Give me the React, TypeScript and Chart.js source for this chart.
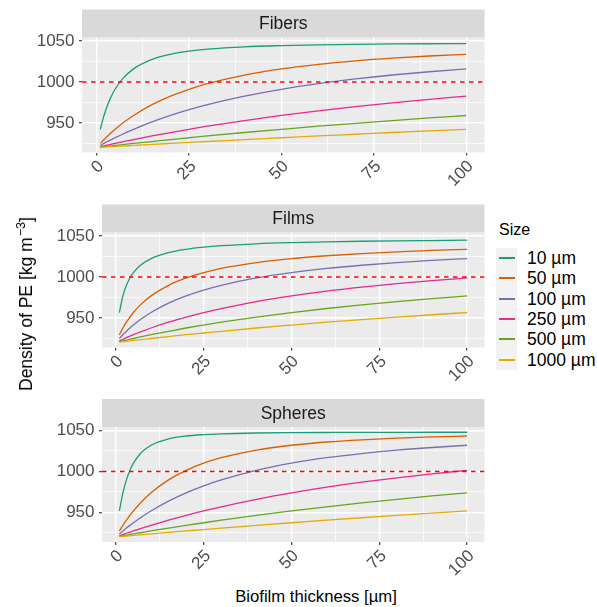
import React, { useEffect, useRef } from 'react';
import { Chart, registerables } from 'chart.js';

Chart.register(...registerables);

// ---------- data ----------
const thickness = [1, 2, 3, 4, 5, 7, 10, 15, 20, 25, 30, 40, 50, 60, 70, 80, 90, 100];
const sizeLabels = ['10 µm', '50 µm', '100 µm', '250 µm', '500 µm', '1000 µm'];
const sizeColors = ['#1B9E77', '#D95F02', '#7570B3', '#E7298A', '#66A61E', '#E6AB02'];
const xTickValues = [0, 12.5, 25, 37.5, 50, 62.5, 75, 87.5, 100];
const yTickValues = [925, 950, 975, 1000, 1025, 1050];
const referenceDensity = 1000;
const xRange = [-3.95, 104.95];
const yRange = [913.9, 1054.3];

const fibers10 = [942.2, 959.1, 972.3, 982.7, 991.1, 1003.7, 1016.0, 1027.5, 1033.8, 1037.6, 1040.0, 1042.9, 1044.4, 1045.4, 1046.0, 1046.4, 1046.7, 1046.9];
const fibers50 = [925.0, 929.7, 934.1, 938.3, 942.2, 949.5, 959.1, 972.3, 982.7, 991.1, 998.0, 1008.5, 1016.0, 1021.6, 1025.8, 1029.1, 1031.7, 1033.8];
const fibers100 = [922.5, 925.0, 927.3, 929.7, 931.9, 936.2, 942.2, 951.2, 959.1, 966.1, 972.3, 982.7, 991.1, 998.0, 1003.7, 1008.5, 1012.5, 1016.0];
const fibers250 = [921.0, 922.0, 923.0, 924.0, 925.0, 926.9, 929.7, 934.1, 938.3, 942.2, 946.0, 952.9, 959.1, 964.8, 969.9, 974.5, 978.8, 982.7];
const fibers500 = [920.5, 921.0, 921.5, 922.0, 922.5, 923.5, 925.0, 927.3, 929.7, 931.9, 934.1, 938.3, 942.2, 946.0, 949.5, 952.9, 956.1, 959.1];
const fibers1000 = [920.3, 920.5, 920.8, 921.0, 921.3, 921.8, 922.5, 923.8, 925.0, 926.2, 927.3, 929.7, 931.9, 934.1, 936.2, 938.3, 940.3, 942.2];

const films10 = [956.6, 976.9, 989.8, 998.8, 1005.3, 1014.3, 1022.4, 1029.7, 1033.8, 1036.4, 1038.2, 1040.5, 1041.9, 1042.9, 1043.6, 1044.1, 1044.5, 1044.9];
const films50 = [929.5, 937.7, 944.8, 951.0, 956.6, 965.9, 976.9, 989.8, 998.8, 1005.3, 1010.4, 1017.5, 1022.4, 1025.9, 1028.6, 1030.7, 1032.4, 1033.8];
const films100 = [924.9, 929.5, 933.7, 937.7, 941.3, 948.0, 956.6, 968.0, 976.9, 984.0, 989.8, 998.8, 1005.3, 1010.4, 1014.3, 1017.5, 1020.2, 1022.4];
const films250 = [922.0, 924.0, 925.9, 927.7, 929.5, 932.9, 937.7, 944.8, 951.0, 956.6, 961.5, 970.0, 976.9, 982.7, 987.6, 991.9, 995.5, 998.8];
const films500 = [921.0, 922.0, 923.0, 924.0, 924.9, 926.8, 929.5, 933.7, 937.7, 941.3, 944.8, 951.0, 956.6, 961.5, 965.9, 970.0, 973.6, 976.9];
const films1000 = [920.5, 921.0, 921.5, 922.0, 922.5, 923.5, 924.9, 927.2, 929.5, 931.6, 933.7, 937.7, 941.3, 944.8, 948.0, 951.0, 953.9, 956.6];

const spheres10 = [951.8, 973.9, 989.7, 1001.4, 1010.1, 1021.9, 1032.0, 1039.8, 1043.3, 1045.0, 1046.0, 1047.0, 1047.4, 1047.6, 1047.75, 1047.8, 1047.9, 1047.9];
const spheres50 = [927.4, 934.2, 940.5, 946.4, 951.8, 961.6, 973.9, 989.7, 1001.4, 1010.1, 1016.8, 1026.1, 1032.0, 1036.0, 1038.7, 1040.7, 1042.2, 1043.3];
const spheres100 = [923.8, 927.4, 930.9, 934.2, 937.4, 943.5, 951.8, 963.8, 973.9, 982.5, 989.7, 1001.4, 1010.1, 1016.8, 1021.9, 1026.1, 1029.3, 1032.0];
const spheres250 = [921.5, 923.0, 924.5, 925.9, 927.4, 930.2, 934.2, 940.5, 946.4, 951.8, 956.9, 966.0, 973.9, 980.9, 987.0, 992.3, 997.1, 1001.4];
const spheres500 = [920.8, 921.5, 922.3, 923.0, 923.8, 925.2, 927.4, 930.9, 934.2, 937.4, 940.5, 946.4, 951.8, 956.9, 961.6, 966.0, 970.1, 973.9];
const spheres1000 = [920.4, 920.8, 921.1, 921.5, 921.9, 922.6, 923.8, 925.6, 927.4, 929.1, 930.9, 934.2, 937.4, 940.5, 943.5, 946.4, 949.2, 951.8];

const FONT = '"Liberation Sans", Arial, Helvetica, sans-serif';
const CANVAS_W = 490;
const CANVAS_H = 190;
const STRIP_H = 28;

const panelPlugin = {
  id: 'panel',
  beforeDraw(chart: any, _args: any, opts: any) {
    const { ctx, chartArea: a } = chart;
    ctx.save();
    ctx.fillStyle = '#EBEBEB';
    ctx.fillRect(a.left, a.top, a.right - a.left, a.bottom - a.top);
    ctx.fillStyle = '#D9D9D9';
    ctx.fillRect(a.left, a.top - STRIP_H, a.right - a.left, STRIP_H);
    ctx.fillStyle = '#1A1A1A';
    ctx.font = `17.5px ${FONT}`;
    ctx.textAlign = 'center';
    ctx.textBaseline = 'middle';
    ctx.fillText(opts.title, (a.left + a.right) / 2, a.top - STRIP_H / 2 + 1);
    ctx.restore();
  },
  afterDatasetsDraw(chart: any) {
    const { ctx, chartArea: a } = chart;
    const y = chart.scales.y.getPixelForValue(referenceDensity);
    ctx.save();
    ctx.beginPath();
    ctx.rect(a.left, a.top, a.right - a.left, a.bottom - a.top);
    ctx.clip();
    ctx.strokeStyle = '#FF0000';
    ctx.lineWidth = 1.3;
    ctx.setLineDash([4.5, 4.5]);
    ctx.beginPath();
    ctx.moveTo(a.left, y);
    ctx.lineTo(a.right, y);
    ctx.stroke();
    ctx.restore();
  },
};

const isMajorX = (v: number) => v % 25 === 0;
const isMajorY = (v: number) => v % 50 === 0;

type PanelProps = {
  title: string;
  series: number[][];
  top: number;
  padTop: number;
  axisW: number;
};

function Panel({ title, series, top, padTop, axisW }: PanelProps) {
  const ref = useRef<HTMLCanvasElement>(null);
  useEffect(() => {
    if (!ref.current) return;
    const xAxisH = CANVAS_H - padTop - 115;
    const chart = new Chart(ref.current, {
      type: 'line',
      data: {
        datasets: series.map((vals, i) => ({
          label: sizeLabels[i],
          data: thickness.map((t, j) => ({ x: t, y: vals[j] })),
          borderColor: sizeColors[i],
          backgroundColor: sizeColors[i],
          borderWidth: 1.3,
          pointRadius: 0,
          fill: false,
          cubicInterpolationMode: 'monotone',
          order: series.length - 1 - i,
        })),
      },
      options: {
        animation: false,
        responsive: false,
        events: [],
        layout: { padding: { top: padTop, right: CANVAS_W - 484.5, left: 0, bottom: 0 } },
        plugins: {
          legend: { display: false },
          tooltip: { enabled: false },
          panel: { title },
        } as any,
        scales: {
          x: {
            type: 'linear',
            min: xRange[0],
            max: xRange[1],
            bounds: 'data',
            afterBuildTicks: (s: any) => {
              s.ticks = xTickValues.map((v) => ({ value: v }));
            },
            afterFit: (s: any) => {
              s.height = xAxisH;
              s.paddingLeft = 0;
              s.paddingRight = 0;
            },
            ticks: {
              autoSkip: false,
              minRotation: 45,
              maxRotation: 45,
              padding: 1,
              labelOffset: 4.5,
              color: '#4D4D4D',
              font: { family: FONT, size: 17 },
              callback: (v: any) => (isMajorX(Number(v)) ? String(v) : ''),
            },
            grid: {
              color: '#FFFFFF',
              lineWidth: (c: any) => (c.tick && isMajorX(c.tick.value) ? 1.4 : 0.7),
              tickLength: 3,
              tickWidth: 1.1,
              tickColor: (c: any) => (c.tick && isMajorX(c.tick.value) ? '#333333' : 'rgba(0,0,0,0)'),
            },
            border: { display: false },
          },
          y: {
            type: 'linear',
            min: yRange[0],
            max: yRange[1],
            bounds: 'data',
            afterBuildTicks: (s: any) => {
              s.ticks = yTickValues.map((v) => ({ value: v }));
            },
            afterFit: (s: any) => {
              s.width = axisW;
            },
            ticks: {
              autoSkip: false,
              padding: 4.5,
              color: '#4D4D4D',
              font: { family: FONT, size: 17 },
              callback: (v: any) => (isMajorY(Number(v)) ? String(v) : ''),
            },
            grid: {
              color: '#FFFFFF',
              lineWidth: (c: any) => (c.tick && isMajorY(c.tick.value) ? 1.4 : 0.7),
              tickLength: 3,
              tickWidth: 1.1,
              tickColor: (c: any) => (c.tick && isMajorY(c.tick.value) ? '#333333' : 'rgba(0,0,0,0)'),
            },
            border: { display: false },
          },
        },
      } as any,
      plugins: [panelPlugin as any],
    });
    return () => chart.destroy();
  }, []);
  return (
    <div style={{ position: 'absolute', left: 0, top, width: CANVAS_W, height: CANVAS_H }}>
      <canvas ref={ref} width={CANVAS_W} height={CANVAS_H} style={{ width: CANVAS_W, height: CANVAS_H, display: 'block' }} />
    </div>
  );
}

export default function App() {
  const fibers = [fibers10, fibers50, fibers100, fibers250, fibers500, fibers1000];
  const films = [films10, films50, films100, films250, films500, films1000];
  const spheres = [spheres10, spheres50, spheres100, spheres250, spheres500, spheres1000];
  return (
    <div
      style={{
        position: 'absolute',
        left: 0,
        top: 0,
        width: 597,
        height: 607,
        background: '#FFFFFF',
        fontFamily: FONT,
        overflow: 'hidden',
      }}
    >
      <Panel title="Fibers" series={fibers} top={0} padTop={37.5} axisW={82} />
      <Panel title="Films" series={films} top={195} padTop={37.5} axisW={102} />
      <Panel title="Spheres" series={spheres} top={390} padTop={37} axisW={102} />

      {/* y axis title */}
      <div
        style={{
          position: 'absolute',
          left: 27,
          top: 304,
          transform: 'translate(-50%, -50%) rotate(-90deg)',
          whiteSpace: 'nowrap',
          fontSize: 17.5,
          lineHeight: '20px',
          color: '#000',
        }}
      >
        Density of PE [kg m
        <span style={{ fontSize: 12.5, position: 'relative', top: -7, marginLeft: 1 }}>−3</span>]
      </div>

      {/* x axis title */}
      <div
        style={{
          position: 'absolute',
          left: 316,
          top: 597,
          transform: 'translate(-50%, -50%)',
          whiteSpace: 'nowrap',
          fontSize: 16.7,
          lineHeight: '20px',
          color: '#000',
        }}
      >
        Biofilm thickness [µm]
      </div>

      {/* legend */}
      <div style={{ position: 'absolute', left: 499, top: 221, fontSize: 16, lineHeight: '18px', color: '#000' }}>Size</div>
      <div style={{ position: 'absolute', left: 496, top: 248, width: 21, height: 122, background: '#F2F2F2' }} />
      {sizeLabels.map((lab, i) => {
        const rowTop = Math.round(248 + i * 20.3);
        return (
          <div key={lab} style={{ position: 'absolute', left: 496, top: rowTop, height: 20, width: 101 }}>
            <div
              style={{
                position: 'absolute',
                left: 3,
                width: 16,
                top: 9,
                height: 2,
                background: sizeColors[i],
              }}
            />
            <div
              style={{
                position: 'absolute',
                left: 31,
                top: 0,
                lineHeight: '20px',
                fontSize: 17.5,
                whiteSpace: 'nowrap',
                color: '#000',
              }}
            >
              {lab}
            </div>
          </div>
        );
      })}
    </div>
  );
}
